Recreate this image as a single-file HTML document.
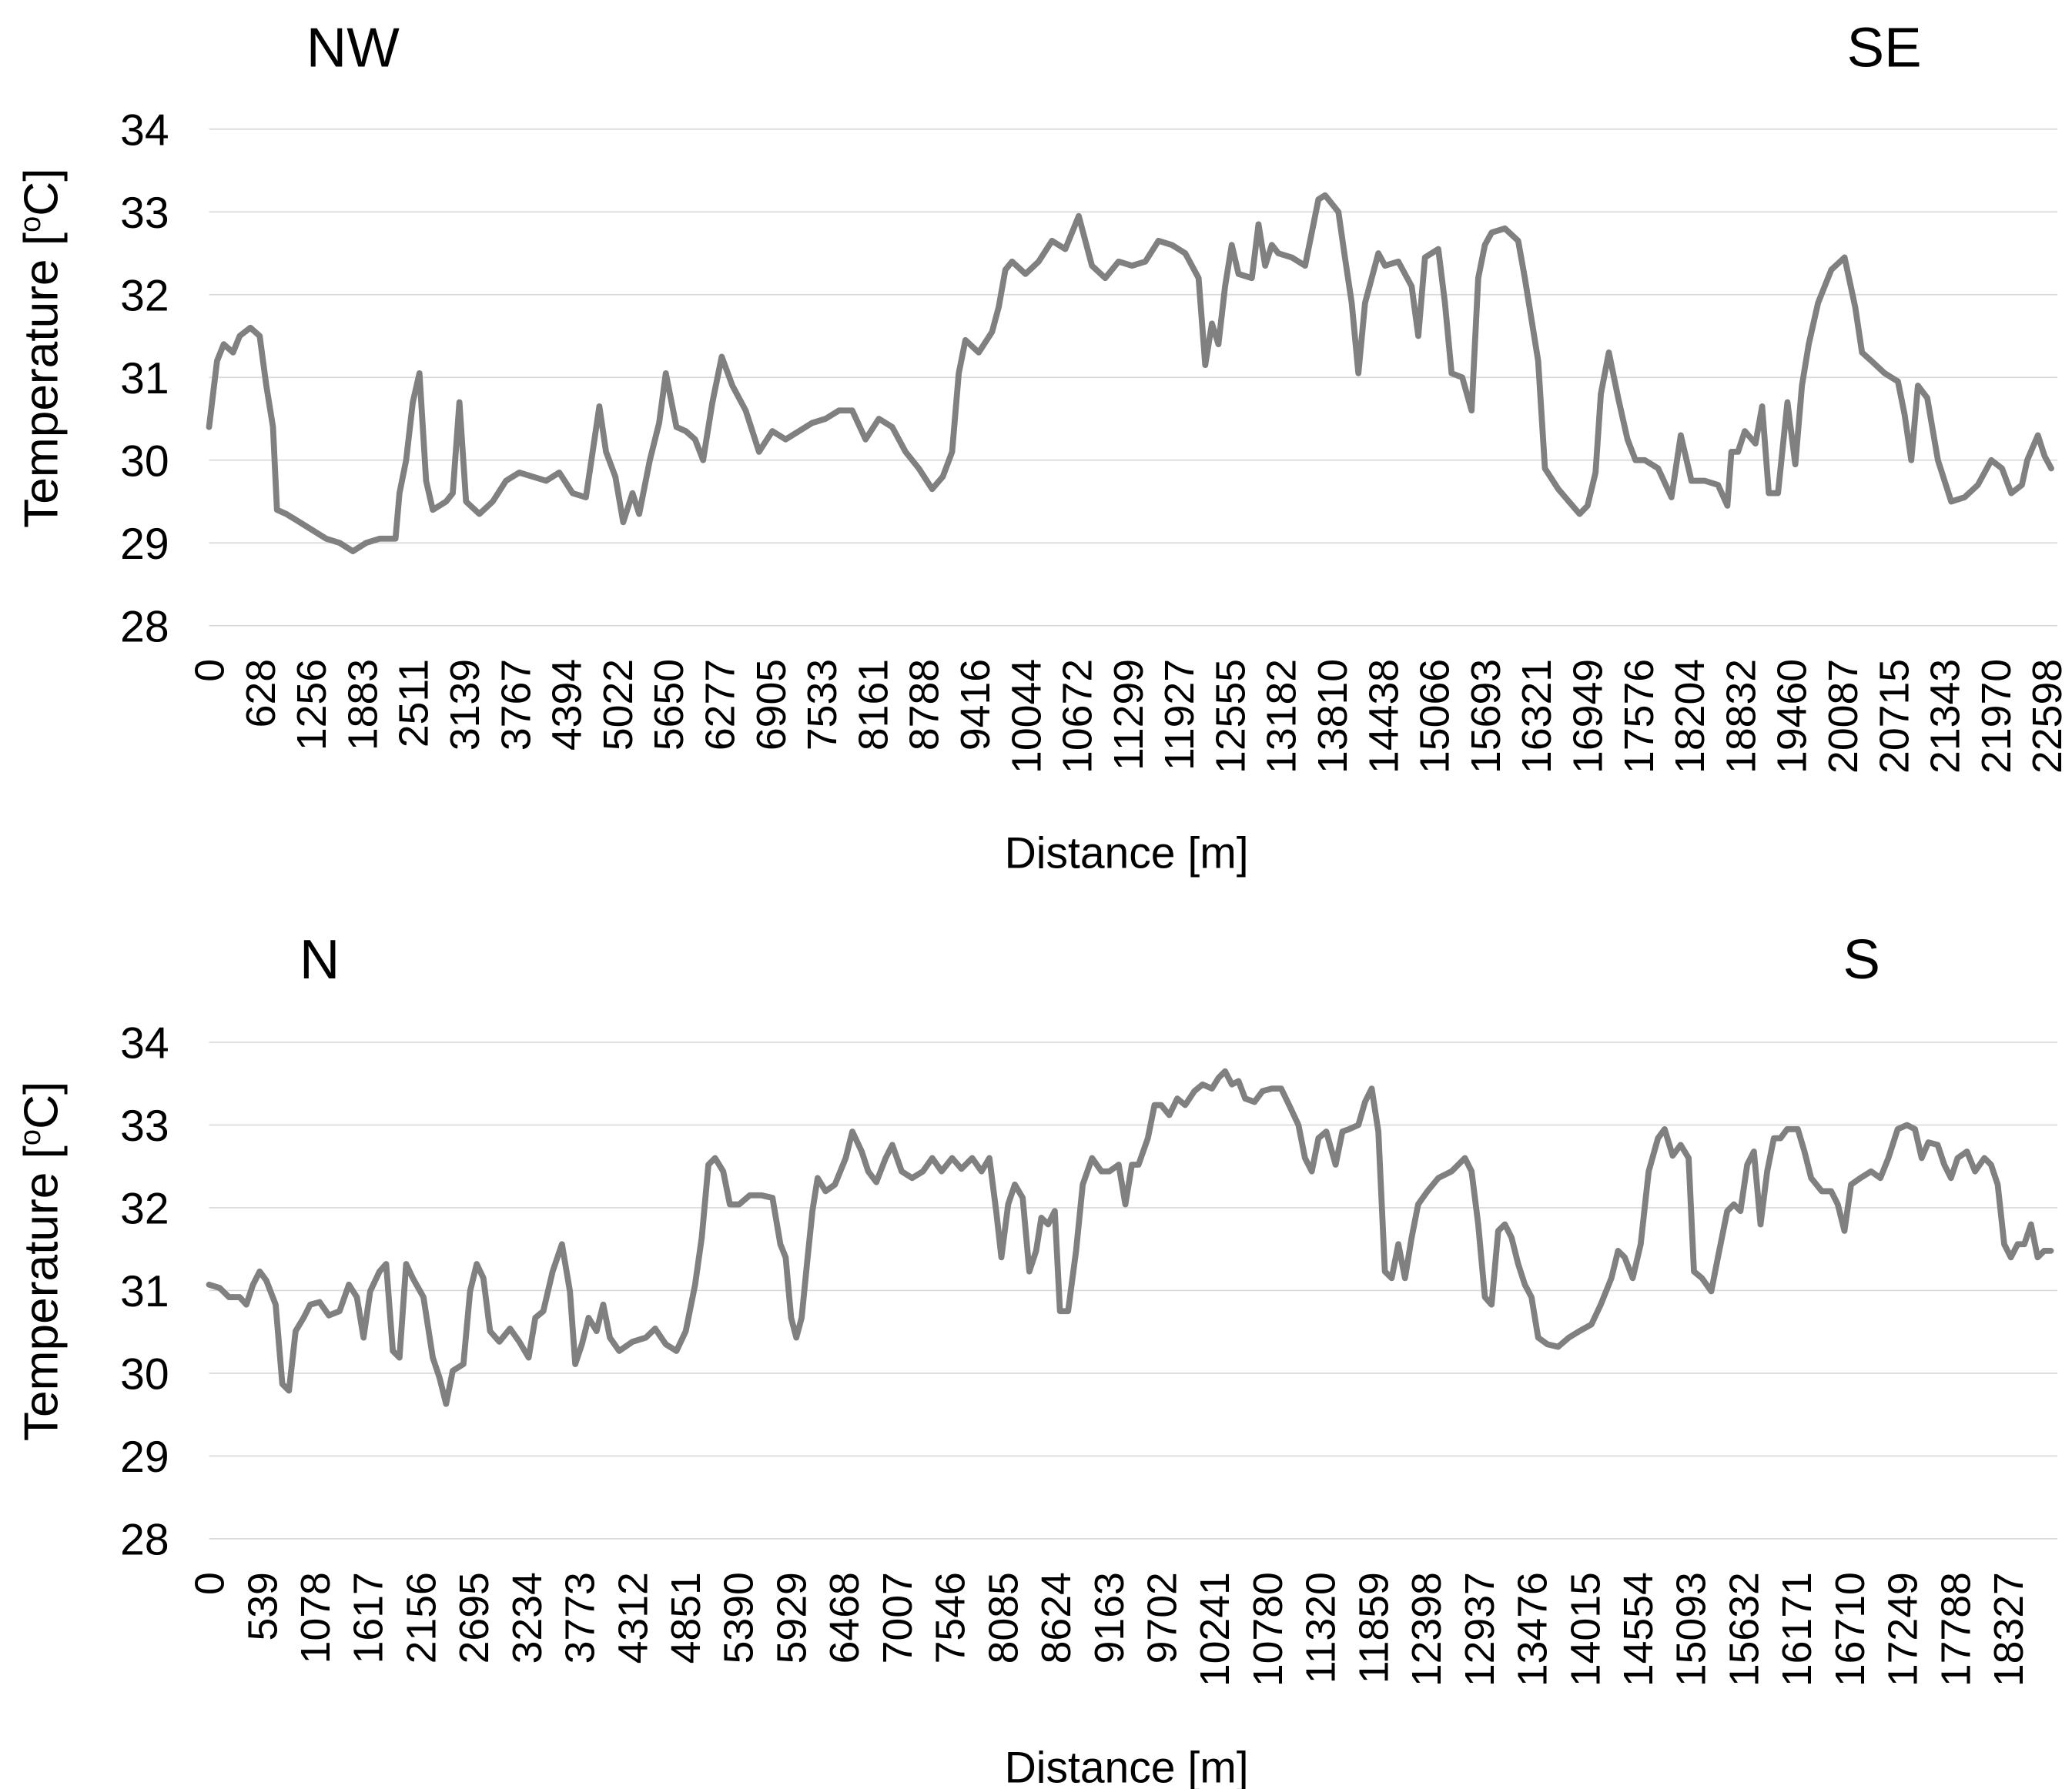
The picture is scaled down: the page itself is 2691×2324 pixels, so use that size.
<!DOCTYPE html>
<html><head><meta charset="utf-8"><style>
html,body{margin:0;padding:0;background:#fff;}
svg{display:block;}
text{font-family:"Liberation Sans",Arial,sans-serif;fill:#000;}
</style></head><body>
<svg id="chart" width="2691" height="2324" viewBox="0 0 1556 1344" preserveAspectRatio="none" xmlns="http://www.w3.org/2000/svg"></svg>
<script>
const yTicks = [28,29,30,31,32,33,34];
const topLabels = ["0","628","1256","1883","2511","3139","3767","4394","5022","5650","6277","6905","7533","8161","8788","9416","10044","10672","11299","11927","12555","13182","13810","14438","15066","15693","16321","16949","17576","18204","18832","19460","20087","20715","21343","21970","22598"];
const botLabels = ["0","539","1078","1617","2156","2695","3234","3773","4312","4851","5390","5929","6468","7007","7546","8085","8624","9163","9702","10241","10780","11320","11859","12398","12937","13476","14015","14554","15093","15632","16171","16710","17249","17788","18327"];
const topDist = [0,98,180,295,377,508,622,704,786,835,950,1113,1277,1441,1605,1769,1932,2096,2293,2342,2424,2506,2588,2669,2751,2915,2997,3079,3161,3324,3488,3652,3816,3980,4144,4307,4471,4635,4799,4881,4996,5093,5208,5289,5420,5535,5617,5748,5862,5977,6075,6190,6304,6435,6599,6763,6927,7090,7254,7418,7582,7745,7909,8073,8237,8401,8565,8728,8892,9023,9138,9220,9302,9465,9629,9711,9793,9875,10039,10202,10366,10530,10694,10857,11021,11185,11349,11513,11676,11840,12004,12168,12250,12332,12413,12495,12577,12659,12823,12905,12987,13069,13150,13314,13478,13560,13642,13724,13888,13969,14051,14133,14215,14297,14379,14461,14625,14788,14870,14952,15116,15198,15280,15411,15526,15608,15690,15772,15935,16099,16181,16263,16345,16427,16591,16722,16853,16951,17050,17115,17214,17328,17443,17541,17656,17820,17983,18098,18229,18393,18557,18671,18721,18803,18885,19016,19098,19180,19294,19409,19507,19589,19671,19786,19949,20113,20244,20326,20441,20605,20769,20851,20933,21015,21129,21260,21424,21588,21752,21916,22047,22162,22293,22359,22490,22572,22654];
const topTemp = [30.4,31.2,31.4,31.3,31.5,31.6,31.5,30.9,30.4,29.4,29.35,29.25,29.15,29.05,29.0,28.9,29.0,29.05,29.05,29.6,30.0,30.7,31.05,29.75,29.4,29.5,29.6,30.7,29.5,29.35,29.5,29.75,29.85,29.8,29.75,29.85,29.6,29.55,30.65,30.1,29.8,29.25,29.6,29.35,30.0,30.45,31.05,30.4,30.35,30.25,30.0,30.7,31.25,30.9,30.6,30.1,30.35,30.25,30.35,30.45,30.5,30.6,30.6,30.25,30.5,30.4,30.1,29.9,29.65,29.8,30.1,31.05,31.45,31.3,31.55,31.85,32.3,32.4,32.25,32.4,32.65,32.55,32.95,32.35,32.2,32.4,32.35,32.4,32.65,32.6,32.5,32.2,31.15,31.65,31.4,32.1,32.6,32.25,32.2,32.85,32.35,32.6,32.5,32.45,32.35,32.75,33.15,33.2,33.0,32.45,31.9,31.05,31.9,32.2,32.5,32.35,32.4,32.1,31.5,32.45,32.55,31.9,31.05,31.0,30.6,32.2,32.6,32.75,32.8,32.65,32.2,31.7,31.2,29.9,29.65,29.5,29.35,29.45,29.85,30.8,31.3,30.75,30.25,30.0,30.0,29.9,29.55,30.3,29.75,29.75,29.7,29.45,30.1,30.1,30.35,30.2,30.65,29.6,29.6,30.7,29.95,30.9,31.4,31.9,32.3,32.45,31.85,31.3,31.2,31.05,30.95,30.55,30.0,30.9,30.75,30.0,29.5,29.55,29.7,30.0,29.9,29.6,29.7,30.0,30.3,30.05,29.9];
const botDist = [0,109,204,312,380,448,516,583,678,746,814,882,963,1031,1126,1221,1329,1424,1506,1574,1641,1736,1804,1872,1940,2008,2076,2184,2279,2347,2415,2483,2591,2659,2727,2795,2862,2957,3066,3161,3256,3324,3405,3500,3595,3676,3731,3799,3866,3948,4016,4083,4178,4314,4450,4545,4653,4762,4857,4952,5019,5087,5155,5237,5305,5400,5508,5630,5739,5820,5874,5929,5983,6037,6091,6146,6200,6281,6376,6485,6553,6648,6715,6797,6892,6960,7055,7163,7272,7367,7462,7570,7665,7774,7869,7950,8018,8072,8140,8208,8289,8357,8425,8479,8547,8615,8669,8751,8832,8900,8995,9090,9171,9266,9334,9401,9469,9564,9632,9700,9782,9863,9944,10039,10121,10216,10284,10351,10419,10487,10555,10650,10731,10826,10921,11003,11098,11165,11233,11301,11382,11477,11545,11613,11708,11776,11844,11912,11979,12047,12115,12183,12251,12318,12413,12522,12658,12793,12861,12929,12997,13065,13133,13200,13268,13336,13404,13472,13540,13635,13743,13852,13960,14082,14177,14286,14353,14421,14503,14584,14666,14761,14828,14910,14991,15073,15127,15208,15303,15371,15466,15534,15601,15669,15737,15805,15873,15941,16009,16076,16185,16253,16320,16429,16524,16592,16660,16728,16823,16931,17026,17107,17202,17297,17379,17447,17515,17610,17677,17745,17813,17908,17990,18085,18153,18221,18288,18356,18424,18492,18560,18628,18695,18763,18872];
const botTemp = [31.07,31.03,30.92,30.92,30.83,31.07,31.23,31.12,30.83,29.87,29.79,30.51,30.67,30.83,30.86,30.70,30.75,31.07,30.92,30.43,30.99,31.23,31.32,30.27,30.19,31.32,31.15,30.92,30.19,29.95,29.63,30.03,30.11,30.99,31.32,31.15,30.51,30.38,30.54,30.38,30.19,30.67,30.75,31.23,31.56,30.99,30.11,30.35,30.67,30.51,30.83,30.43,30.27,30.38,30.43,30.54,30.35,30.27,30.51,31.07,31.64,32.52,32.60,32.44,32.04,32.04,32.15,32.15,32.12,31.56,31.40,30.67,30.43,30.67,31.32,31.96,32.36,32.20,32.28,32.60,32.92,32.68,32.44,32.31,32.60,32.76,32.44,32.36,32.44,32.60,32.44,32.60,32.47,32.60,32.44,32.60,31.96,31.40,32.04,32.28,32.12,31.23,31.48,31.88,31.80,31.96,30.75,30.75,31.48,32.28,32.60,32.44,32.44,32.52,32.04,32.52,32.52,32.84,33.24,33.24,33.12,33.32,33.24,33.41,33.49,33.44,33.57,33.65,33.49,33.53,33.32,33.28,33.41,33.44,33.44,33.24,33.00,32.60,32.44,32.84,32.92,32.52,32.92,32.95,33.00,33.28,33.44,32.92,31.23,31.15,31.56,31.15,31.64,32.04,32.20,32.36,32.44,32.60,32.44,31.80,30.92,30.83,31.72,31.80,31.64,31.32,31.07,30.92,30.43,30.35,30.32,30.43,30.51,30.59,30.83,31.15,31.48,31.40,31.15,31.56,32.44,32.84,32.95,32.63,32.76,32.60,31.23,31.15,30.99,31.40,31.96,32.04,31.96,32.52,32.68,31.80,32.44,32.84,32.84,32.95,32.95,32.68,32.36,32.20,32.20,32.04,31.72,32.28,32.36,32.44,32.36,32.60,32.95,33.00,32.95,32.60,32.79,32.76,32.52,32.36,32.60,32.68,32.44,32.60,32.52,32.28,31.56,31.40,31.56,31.56,31.80,31.40,31.48,31.48];

const NS="http://www.w3.org/2000/svg";
const svg=document.getElementById('chart');
function mk(tag,attrs,parent){const e=document.createElementNS(NS,tag);for(const k in attrs)e.setAttribute(k,attrs[k]);(parent||svg).appendChild(e);return e;}

function drawPanel(cfg){
  const g=mk('g',{});
  
  
  const yS=t=>cfg.y34+(34-t)*(cfg.y28-cfg.y34)/6;
  const xS=d=>cfg.x0+d*(cfg.xLast-cfg.x0)/cfg.dLast;
  yTicks.forEach(t=>{
    const l=mk('line',{x1:cfg.x0,x2:1545,y1:yS(t),y2:yS(t),stroke:'#d9d9d9','stroke-width':1},g);
    
    
    const tx=mk('text',{x:127,y:yS(t)+12,'text-anchor':'end','font-size':33},g);
    tx.textContent=t;
    
    
  });
  cfg.labels.forEach((lb,i)=>{
    const x=cfg.x0+i*(cfg.xLast-cfg.x0)/(cfg.labels.length-1);
    const tx=mk('text',{x:0,y:0,'text-anchor':'end','font-size':31,transform:`translate(${x+11},${cfg.y28+25}) rotate(-90)`},g);
    tx.textContent=lb;
    
    
  });
  const n=Math.min(cfg.dist.length,cfg.temp.length);
  let d='';
  for(let i=0;i<n;i++){d+=(i?'L':'M')+xS(cfg.dist[i]).toFixed(1)+' '+yS(cfg.temp[i]).toFixed(1);}
  const p=mk('path',{d:d,fill:'none',stroke:'#808080','stroke-width':4.5,'stroke-linejoin':'round','stroke-linecap':'round'},g);
  
  
  const yt=mk('text',{x:0,y:0,'text-anchor':'middle','font-size':36,transform:`translate(43,${(cfg.y34+cfg.y28)/2-22}) rotate(-90)`},g);
  yt.innerHTML='Temperature [<tspan font-size="22" dy="-13">o</tspan><tspan dy="13">C]</tspan>';
  
  
  const xt=mk('text',{x:846,y:cfg.xTitleY,'text-anchor':'middle','font-size':33},g);
  xt.textContent='Distance [m]';
  
  
  const a=mk('text',{x:cfg.leftX,y:cfg.dirY,'text-anchor':'middle','font-size':42},g);
  a.textContent=cfg.left;
  
  
  const b=mk('text',{x:cfg.rightX,y:cfg.dirY,'text-anchor':'middle','font-size':42},g);
  b.textContent=cfg.right;
  
  
}
drawPanel({name:'nw-se-panel',x0:157,xLast:1537,dLast:22598,y34:97,y28:470,labels:topLabels,dist:topDist,temp:topTemp,xTitleY:652,left:'NW',right:'SE',leftX:265,rightX:1415,dirY:50});
drawPanel({name:'n-s-panel',x0:157,xLast:1508,dLast:18327,y34:783,y28:1156,labels:botLabels,dist:botDist,temp:botTemp,xTitleY:1339,left:'N',right:'S',leftX:240,rightX:1398,dirY:735});
</script>
</body></html>
